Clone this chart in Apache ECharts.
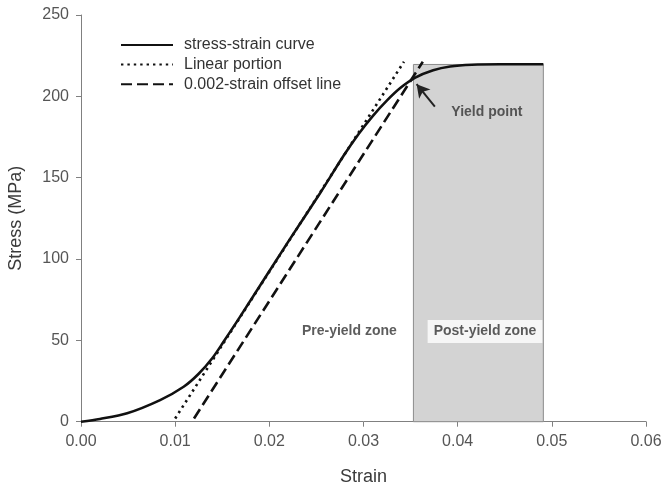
<!DOCTYPE html>
<html>
<head>
<meta charset="utf-8">
<script src="https://cdn.jsdelivr.net/npm/echarts@6/dist/echarts.min.js"></script>
<style>
html,body{margin:0;padding:0;background:#fff;}
#c{width:664px;height:489px;}
</style>
</head>
<body>
<div id="c"></div>
<script>
// ---- data ----
var curveStrain = [0, 0.0020, 0.0049, 0.0084, 0.0109, 0.0125, 0.0140, 0.0151, 0.0169, 0.0222, 0.0254, 0.0279, 0.0295, 0.0310, 0.0325, 0.0339, 0.0355, 0.0374, 0.0392, 0.0415, 0.0445, 0.0491];
var curveStress = [0, 1.7, 5.2, 13.3, 21.5, 29.5, 39.5, 48.8, 64.6, 112.4, 140.6, 163.6, 177.0, 188.0, 197.5, 205.1, 211.5, 216.0, 218.3, 219.4, 219.7, 219.7];
var linearStrain = [0.0100, 0.0343];
var linearStress = [2, 221.3];
var offsetStrain = [0.0120, 0.0363];
var offsetStress = [2, 221.3];
var zoneStrain = [0.0353, 0.0491];
var zoneStress = [0, 219.6];
var arrowFrom = [0.03758, 193.7];
var arrowTo = [0.03564, 207.5];
var annotText = ['Yield point', 'Pre-yield zone', 'Post-yield zone'];
var annotStrain = [0.0431, 0.0285, 0.0429];
var annotStress = [190.3, 55.9, 55.4];
var seriesNames = ['stress-strain curve', 'Linear portion', '0.002-strain offset line'];
var xTicks = {min: 0, max: 0.06, step: 0.01};
var yTicks = {min: 0, max: 250, step: 50};

function zip(a, b) { return a.map(function (v, i) { return [v, b[i]]; }); }

var FONT = 'Liberation Sans, Arial, sans-serif';
var chart = echarts.init(document.getElementById('c'));
var annotData = annotText.map(function (t, i) {
  var item = {value: [annotStrain[i], annotStress[i]], name: t};
  if (i === 2) {
    item.label = {backgroundColor: '#ffffff', padding: [5, 6, 4, 6]};
  }
  return item;
});

chart.setOption({
  animation: false,
  backgroundColor: '#ffffff',
  grid: {left: 81, right: 18, top: 15, bottom: 67.3, containLabel: false, outerBoundsMode: 'none'},
  legend: {
    data: seriesNames,
    orient: 'vertical',
    left: 120,
    top: 37,
    padding: 0,
    itemWidth: 52,
    itemHeight: 16,
    itemGap: 3.6,
    itemStyle: {opacity: 0},
    textStyle: {fontFamily: FONT, fontSize: 16, color: '#333', lineHeight: 16, padding: [0, 0, 0, 6]}
  },
  xAxis: {
    type: 'value', min: xTicks.min, max: xTicks.max, interval: xTicks.step,
    name: 'Strain', nameLocation: 'middle', nameGap: 46,
    nameTextStyle: {fontFamily: FONT, fontSize: 18, color: '#3a3a3a'},
    axisLine: {lineStyle: {color: '#808080', width: 1}},
    axisTick: {show: true, length: 5, lineStyle: {color: '#808080'}},
    axisLabel: {fontFamily: FONT, fontSize: 16, color: '#555', margin: 12,
      formatter: function (v) { return v.toFixed(2); }},
    splitLine: {show: false}
  },
  yAxis: {
    type: 'value', min: yTicks.min, max: yTicks.max, interval: yTicks.step,
    name: 'Stress (MPa)', nameLocation: 'middle', nameGap: 56,
    nameTextStyle: {fontFamily: FONT, fontSize: 18, color: '#3a3a3a'},
    axisLine: {show: true, lineStyle: {color: '#808080', width: 1}},
    axisTick: {show: true, length: 5, lineStyle: {color: '#808080'}},
    axisLabel: {fontFamily: FONT, fontSize: 16, color: '#555', margin: 12},
    splitLine: {show: false}
  },
  series: [
    {
      name: 'zone', type: 'line', data: [], z: 1, silent: true,
      markArea: {
        silent: true,
        itemStyle: {color: '#d3d3d3', borderColor: '#8c8c8c', borderWidth: 1},
        data: [[{coord: [zoneStrain[0], zoneStress[0]]}, {coord: [zoneStrain[1], zoneStress[1]]}]]
      }
    },
    {
      name: seriesNames[0], type: 'line', data: zip(curveStrain, curveStress),
      smooth: 0.3, symbol: 'none', z: 5,
      lineStyle: {color: '#111', width: 2.6}, itemStyle: {color: '#111'}
    },
    {
      name: seriesNames[1], type: 'line', data: zip(linearStrain, linearStress),
      symbol: 'none', z: 4,
      lineStyle: {color: '#111', width: 2.6, type: [2.4, 4]}, itemStyle: {color: '#111'}
    },
    {
      name: seriesNames[2], type: 'line', data: zip(offsetStrain, offsetStress),
      symbol: 'none', z: 4,
      lineStyle: {color: '#111', width: 2.6, type: [11, 5]}, itemStyle: {color: '#111'}
    },
    {
      name: 'arrow', type: 'line', data: [], z: 6, silent: true,
      markLine: {
        silent: true,
        symbol: ['none', 'arrow'], symbolSize: [11, 13],
        lineStyle: {color: '#222', width: 2, type: 'solid'},
        label: {show: false},
        data: [[{coord: arrowFrom}, {coord: arrowTo}]]
      }
    },
    {
      name: 'annot', type: 'scatter', data: annotData, symbolSize: 0, z: 7, silent: true,
      label: {
        show: true, position: 'inside', formatter: '{b}',
        fontFamily: FONT, fontSize: 14, fontWeight: 'bold', color: '#333'
      }
    }
  ]
});
</script>
</body>
</html>
